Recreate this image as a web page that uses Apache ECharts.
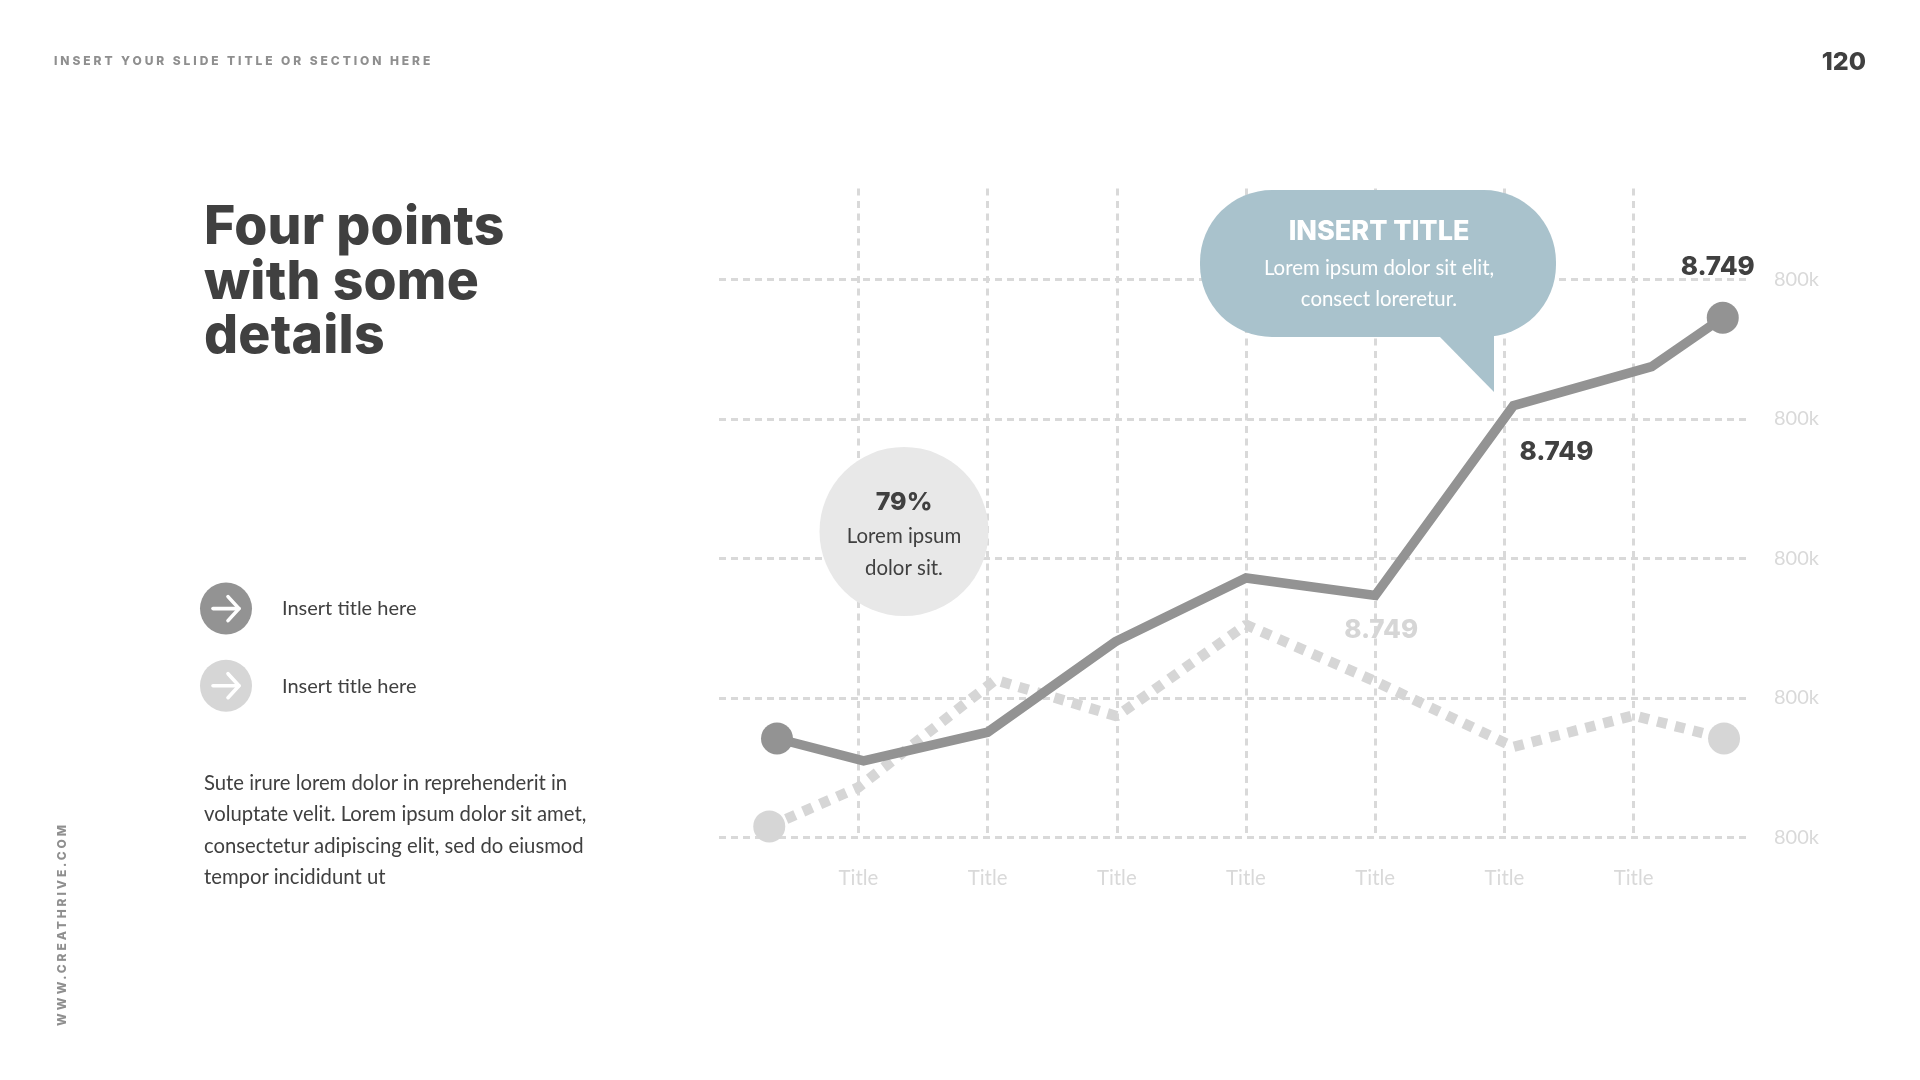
<!DOCTYPE html>
<html>
<head>
<meta charset="utf-8">
<script src="https://cdn.jsdelivr.net/npm/echarts@6/dist/echarts.min.js"></script>
<style>
html,body{margin:0;padding:0;background:#fff;width:1920px;height:1080px;overflow:hidden}
#c{position:absolute;left:0;top:0;width:1920px;height:1080px}
.t{position:absolute;white-space:nowrap;line-height:1}
</style>
</head>
<body>
<div id="c"></div>
<div class="t" id="hdr" style="left:54px;top:53px;font:800 12px Inter,sans-serif;letter-spacing:2.93px;color:#8f8f8f">INSERT YOUR SLIDE TITLE OR SECTION HERE</div>
<div class="t" id="pg" style="right:54px;top:46px;font:800 25px Inter,sans-serif;color:#404040">120</div>
<div class="t" id="side" style="left:54px;top:1026px;transform-origin:0 0;transform:rotate(-90deg);font:800 12px Inter,sans-serif;letter-spacing:2.9px;color:#8f8f8f">WWW.CREATHRIVE.COM</div>
<div class="t" style="left:204px;top:198px;font:800 53.5px/54.5px Inter,sans-serif;color:#404040;white-space:normal;width:360px;letter-spacing:.2px">Four points<br>with some<br>details</div>
<div class="t" style="left:204px;top:767px;font:400 20.3px/31.4px Lato,sans-serif;color:#404040;white-space:normal;width:440px">Sute irure lorem dolor in reprehenderit in<br>voluptate velit. Lorem ipsum dolor sit amet,<br>consectetur adipiscing elit, sed do eiusmod<br>tempor incididunt ut</div>
<script>
const xTickValues = [1, 2, 3, 4, 5, 6, 7];
const xTickLabels = ['Title', 'Title', 'Title', 'Title', 'Title', 'Title', 'Title'];
const yTickLabels = ['800k', '800k', '800k', '800k', '800k'];
const seriesNames = ['Insert title here', 'Insert title here'];
const solidX = [0.37, 1.04, 2.0, 2.99, 4.0, 5.0, 6.07, 7.14, 7.69];
const solidY = [142, 110, 151, 281, 372, 347, 619, 675, 745];
const dottedX = [0.31, 1.0, 2.06, 3.0, 4.0, 5.0, 6.07, 7.0, 7.7];
const dottedY = [16, 72, 226, 174, 305, 224, 130, 175, 142];
const valueTag = '8.749';

const DARK = '#939393', LIGHT = '#d6d6d6', INK = '#404040', GRID = '#d9d9d9', AXIS = '#d9d9d9', BLUE = '#a9c2cc';
const chart = echarts.init(document.getElementById('c'), null, {renderer: 'canvas'});
const labelFont = {fontFamily: 'Inter, sans-serif', fontWeight: 800, fontSize: 26};

function build(xs, ys, labels) {
  return xs.map((x, i) => {
    const end = i === 0 || i === xs.length - 1;
    const d = {value: [x, ys[i]], symbol: 'circle', symbolSize: end ? 32 : 0};
    if (labels[i]) d.label = Object.assign({show: true, formatter: valueTag, position: 'inside'}, labelFont, labels[i]);
    return d;
  });
}
function arrow(cx, cy, color) {
  return {type: 'group', x: cx, y: cy, z: 6, children: [
    {type: 'circle', shape: {cx: 0, cy: 0, r: 26}, style: {fill: color}},
    {type: 'polyline', shape: {points: [[-13, 0], [13, 0]]}, style: {stroke: '#fff', lineWidth: 3.6, lineCap: 'round', fill: null}},
    {type: 'polyline', shape: {points: [[2, -12], [13, 0], [2, 12]]}, style: {stroke: '#fff', lineWidth: 3.6, lineCap: 'round', lineJoin: 'round', fill: null}}
  ]};
}
function txt(x, y, s, size, color, weight, family, align) {
  return {type: 'text', x, y, z: 7, style: {text: s, fill: color, align: align || 'center', verticalAlign: 'middle',
    font: (weight || 400) + ' ' + size + 'px ' + (family || 'Lato, sans-serif')}};
}

chart.setOption({
  animation: false,
  backgroundColor: '#fff',
  grid: {left: 719, right: 174, top: 188.6, bottom: 242.4, containLabel: false},
  xAxis: {
    type: 'value', min: -0.079, max: 7.87,
    axisLine: {show: false},
    axisTick: {show: false, customValues: xTickValues},
    axisLabel: {customValues: xTickValues, margin: 31, color: AXIS, fontFamily: 'Lato, sans-serif', fontSize: 20.4,
      formatter: v => xTickLabels[xTickValues.indexOf(v)] || ''},
    splitLine: {show: true, showMinLine: true, showMaxLine: true, lineStyle: {color: GRID, width: 3, type: [7, 5.5]}}
  },
  yAxis: {
    type: 'value', min: 0, max: 930, interval: 200, position: 'right',
    axisLine: {show: false}, axisTick: {show: false},
    axisLabel: {margin: 28, color: AXIS, fontFamily: 'Lato, sans-serif', fontSize: 20, showMaxLabel: false, padding: [2, 0, 0, 0],
      formatter: v => yTickLabels[v / 200] || ''},
    splitLine: {show: true, showMaxLine: false, lineStyle: {color: GRID, width: 3, type: [7, 5]}}
  },
  series: [
    {name: seriesNames[1], type: 'line', showAllSymbol: true, z: 2,
     lineStyle: {color: LIGHT, width: 10.5, type: [10, 8.5]}, itemStyle: {color: LIGHT},
     data: build(dottedX, dottedY, {5: {color: LIGHT, offset: [6, -51]}})},
    {name: seriesNames[0], type: 'line', showAllSymbol: true, z: 3,
     lineStyle: {color: DARK, width: 9.5, join: 'miter'}, itemStyle: {color: DARK},
     data: build(solidX, solidY, {6: {color: INK, offset: [43, 47]}, 8: {color: INK, offset: [-5, -51]}})}
  ],
  graphic: {elements: [
    {type: 'rect', z: 5, shape: {x: 1200, y: 190, width: 356, height: 147, r: 72}, style: {fill: BLUE}},
    {type: 'polygon', z: 5, shape: {points: [[1439, 336], [1494, 336], [1494, 392]]}, style: {fill: BLUE}},
    txt(1379, 232, 'INSERT TITLE', 27, '#fff', 800, 'Inter, sans-serif'),
    txt(1379, 268, 'Lorem ipsum dolor sit elit,', 20.4, '#fff'),
    txt(1379, 299, 'consect loreretur.', 20.4, '#fff'),
    {type: 'circle', z: 5, shape: {cx: 904, cy: 531.5, r: 84.5}, style: {fill: '#e8e8e8'}},
    txt(904, 502, '79%', 25, INK, 800, 'Inter, sans-serif'),
    txt(904, 536, 'Lorem ipsum', 20.4, INK),
    txt(904, 568, 'dolor sit.', 20.4, INK),
    arrow(226, 608.6, DARK),
    arrow(226, 685.7, LIGHT),
    txt(282, 609, seriesNames[0], 20, INK, 400, null, 'left'),
    txt(282, 686.5, seriesNames[1], 20, INK, 400, null, 'left')
  ]}
});
</script>
</body>
</html>
